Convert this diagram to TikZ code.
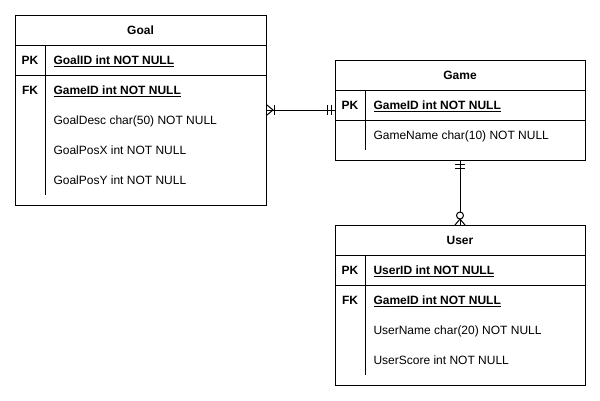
\documentclass[tikz,border=0pt]{standalone}
\usepackage{fontspec}
\setmainfont{Liberation Sans}
\begin{document}
\begin{tikzpicture}[x=1pt,y=-1pt,line width=1pt,
  tablebox/.style={draw,anchor=north west,inner sep=0pt,minimum width=251pt},
  ttl/.style={font=\fontsize{12}{14}\selectfont\bfseries,inner sep=0pt},
  keylab/.style={font=\fontsize{12}{14}\selectfont\bfseries,inner sep=0pt},
  attr/.style={font=\fontsize{12}{14}\selectfont,anchor=base west,inner sep=0pt},
  keyattr/.style={attr,font=\fontsize{12}{14}\selectfont\bfseries},
  conn/.style={line width=1pt}]
\useasboundingbox (0,0) rectangle (600,400);
% ---------- Goal ----------
\node[tablebox,minimum height=190pt] (goal) at (15,15) {};
\draw (15,45) -- (266,45);
\draw (15,75) -- (266,75);
\draw (45,45) -- (45,195);
\node[ttl] (goalT) at (140.5,30) {Goal};
\node[keylab] (goalPK) at (30,60) {PK};
\node[keylab] (goalFK) at (30,90) {FK};
\node[keyattr] (goal1) at (53,64.3) {\underline{GoalID int NOT NULL}};
\node[keyattr] (goal2) at (53,94.3) {\underline{GameID int NOT NULL}};
\node[attr] (goal3) at (53,124.3) {GoalDesc char(50) NOT NULL};
\node[attr] (goal4) at (53,154.3) {GoalPosX int NOT NULL};
\node[attr] (goal5) at (53,184.3) {GoalPosY int NOT NULL};
% ---------- Game ----------
\node[tablebox,minimum width=250pt,minimum height=100pt] (game) at (335,60) {};
\draw (335,90) -- (585,90);
\draw (335,120) -- (585,120);
\draw (365,90) -- (365,150);
\node[ttl] (gameT) at (460,75) {Game};
\node[keylab] (gamePK) at (350,105) {PK};
\node[keyattr] (game1) at (373,109.3) {\underline{GameID int NOT NULL}};
\node[attr] (game2) at (373,139.3) {GameName char(10) NOT NULL};
% ---------- User ----------
\node[tablebox,minimum width=250pt,minimum height=160pt] (user) at (335,225) {};
\draw (335,255) -- (585,255);
\draw (335,285) -- (585,285);
\draw (365,255) -- (365,375);
\node[ttl] (userT) at (460,240) {User};
\node[keylab] (userPK) at (350,270) {PK};
\node[keylab] (userFK) at (350,300) {FK};
\node[keyattr] (user1) at (373,274.3) {\underline{UserID int NOT NULL}};
\node[keyattr] (user2) at (373,304.3) {\underline{GameID int NOT NULL}};
\node[attr] (user3) at (373,334.3) {UserName char(20) NOT NULL};
\node[attr] (user4) at (373,364.3) {UserScore int NOT NULL};
% ---------- connectors ----------
\coordinate (c1a) at (goal.north east |- 0,110);
\coordinate (c1b) at (game.north west |- 0,110);
\draw[conn] (c1a) -- (c1b);
% one-or-many at Goal
\draw[conn] ([yshift=5pt]c1a) -- ([xshift=6pt]c1a) -- ([yshift=-5pt]c1a);
\draw[conn] ([xshift=7pt,yshift=5pt]c1a) -- ([xshift=7pt,yshift=-5pt]c1a);
% mandatory one at Game
\draw[conn] ([xshift=-8pt,yshift=5pt]c1b) -- ([xshift=-8pt,yshift=-5pt]c1b);
\draw[conn] ([xshift=-4pt,yshift=5pt]c1b) -- ([xshift=-4pt,yshift=-5pt]c1b);
\coordinate (c2a) at (game.south -| 460,0);
\coordinate (c2b) at (user.north -| 460,0);
\draw[conn] (c2a) -- (c2b);
% mandatory one at Game bottom
\draw[conn] ([xshift=-5pt,yshift=-3.5pt]c2a) -- ([xshift=5pt,yshift=-3.5pt]c2a);
\draw[conn] ([xshift=-5pt,yshift=-7pt]c2a) -- ([xshift=5pt,yshift=-7pt]c2a);
% zero-or-many at User
\draw[conn] ([xshift=-5pt]c2b) -- ([yshift=6pt]c2b) -- ([xshift=5pt]c2b);
\draw[conn,fill=white] ([yshift=9.5pt]c2b) circle[radius=3.5pt];
\end{tikzpicture}
\end{document}
